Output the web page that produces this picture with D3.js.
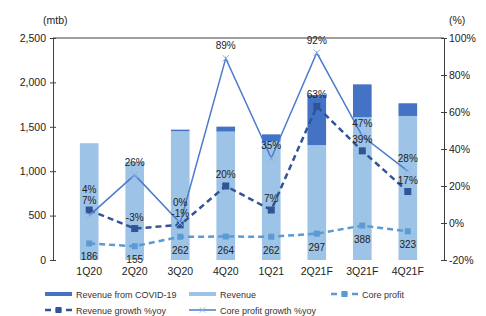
<!DOCTYPE html>
<html>
<head>
<meta charset="utf-8">
<script src="https://cdn.jsdelivr.net/npm/d3@7"></script>
<style>
  body { margin: 0; background: #fff; }
  svg { font-family: "Liberation Sans", Arial, sans-serif; }
</style>
</head>
<body>
<div id="chart"></div>
<script>
// quarters on the x axis
const quarters = ["1Q20", "2Q20", "3Q20", "4Q20", "1Q21", "2Q21F", "3Q21F", "4Q21F"];
// bar values (mtb)
const revenue = [1315, 1105, 1450, 1446, 1340, 1295, 1607, 1622];
const revenueCovid = [0, 0, 18, 56, 75, 563, 371, 143];
// core profit (mtb)
const coreProfit = [186, 155, 262, 264, 262, 297, 388, 323];
// growth lines (%)
const revenueGrowth = [7, -3, -1, 20, 7, 63, 39, 17];
const coreProfitGrowth = [4, 26, 0, 89, 35, 92, 47, 28];
// axis ticks
const leftTicks = [0, 500, 1000, 1500, 2000, 2500];
const rightTicks = [-20, 0, 20, 40, 60, 80, 100];

const W = 486, H = 316;
const margin = { top: 38, right: 42, bottom: 56, left: 53 };
const width = W - margin.left - margin.right,
  height = H - margin.top - margin.bottom;

const cDark = "#4472C4", cLight = "#9DC3E6", cRevG = "#2F5597", cCore = "#5B9BD5", cCoreG = "#4A7BD0";

const svg = d3.select("#chart").append("svg")
  .attr("width", W).attr("height", H);
const g = svg.append("g").attr("transform", `translate(${margin.left},${margin.top})`);

const x = d3.scaleBand().domain(quarters).range([0, width]).padding(0.59);
const xc = d => x(d) + x.bandwidth() / 2;
const yL = d3.scaleLinear().domain([0, 2500]).range([height, 0]);
const yR = d3.scaleLinear().domain([-20, 100]).range([height, 0]);

// top border
g.append("line").attr("x1", 0).attr("x2", width).attr("y1", 0).attr("y2", 0)
  .attr("stroke", "#404040").attr("stroke-width", 1);

// left axis
const axL = g.append("g")
  .call(d3.axisLeft(yL).tickValues(leftTicks).tickFormat(d3.format(",")).tickSizeInner(3).tickSizeOuter(0));
axL.selectAll(".tick line").attr("x2", 3).attr("x1", -3);
// right axis
const axR = g.append("g").attr("transform", `translate(${width},0)`)
  .call(d3.axisRight(yR).tickValues(rightTicks).tickFormat(d => d + "%").tickSizeInner(3).tickSizeOuter(0));
axR.selectAll(".tick line").attr("x1", -3).attr("x2", 3);
[axL, axR].forEach(a => {
  a.select(".domain").attr("stroke", "#404040");
  a.selectAll(".tick line").attr("stroke", "#404040");
  a.selectAll("text").attr("font-size", 10.5).attr("fill", "#222")
    .attr("font-family", "Liberation Sans, Arial, sans-serif");
});
axL.selectAll("text").attr("x", -7);
axR.selectAll("text").attr("x", 5);

// x labels
g.selectAll(".xl").data(quarters).join("text")
  .attr("x", d => xc(d)).attr("y", height + 15)
  .attr("text-anchor", "middle").attr("font-size", 10.5).attr("fill", "#222")
  .text(d => d);

// unit labels
svg.append("text").attr("x", 43).attr("y", 24).attr("font-size", 10.5).attr("fill", "#222").text("(mtb)");
svg.append("text").attr("x", 449).attr("y", 24).attr("font-size", 10.5).attr("fill", "#222").text("(%)");

// bars
g.selectAll(".bl").data(quarters).join("rect")
  .attr("x", d => x(d)).attr("width", x.bandwidth())
  .attr("y", (d, i) => yL(revenue[i])).attr("height", (d, i) => height - yL(revenue[i]))
  .attr("fill", cLight);
g.selectAll(".bd").data(quarters).join("rect")
  .attr("x", d => x(d)).attr("width", x.bandwidth())
  .attr("y", (d, i) => yL(revenue[i] + revenueCovid[i]))
  .attr("height", (d, i) => yL(revenue[i]) - yL(revenue[i] + revenueCovid[i]))
  .attr("fill", cDark);

// core profit line
g.append("path").datum(coreProfit)
  .attr("d", d3.line().x((d, i) => xc(quarters[i])).y(d => yL(d)))
  .attr("fill", "none").attr("stroke", cCore).attr("stroke-width", 2.5).attr("stroke-dasharray", "6,4");
g.selectAll(".cpm").data(coreProfit).join("rect")
  .attr("x", (d, i) => xc(quarters[i]) - 3).attr("y", d => yL(d) - 3)
  .attr("width", 6).attr("height", 6).attr("fill", cCore);
g.selectAll(".cpl").data(coreProfit).join("text")
  .attr("x", (d, i) => xc(quarters[i])).attr("y", d => yL(d) + 17)
  .attr("text-anchor", "middle").attr("font-size", 10).attr("fill", "#222")
  .text(d => d);

// revenue growth line
g.append("path").datum(revenueGrowth)
  .attr("d", d3.line().x((d, i) => xc(quarters[i])).y(d => yR(d)))
  .attr("fill", "none").attr("stroke", cRevG).attr("stroke-width", 2.5).attr("stroke-dasharray", "6,4");
g.selectAll(".rgm").data(revenueGrowth).join("rect")
  .attr("x", (d, i) => xc(quarters[i]) - 3.5).attr("y", d => yR(d) - 3.5)
  .attr("width", 7).attr("height", 7).attr("fill", cRevG);

// core profit growth line
g.append("path").datum(coreProfitGrowth)
  .attr("d", d3.line().x((d, i) => xc(quarters[i])).y(d => yR(d)))
  .attr("fill", "none").attr("stroke", cCoreG).attr("stroke-width", 1.5);
const star = d3.symbol().type(d3.symbolX).size(30);
g.selectAll(".cgm").data(coreProfitGrowth).join("path")
  .attr("transform", (d, i) => `translate(${xc(quarters[i])},${yR(d)})`)
  .attr("d", star).attr("stroke", "#8FB4E8").attr("stroke-width", 1).attr("fill", "none");

// growth labels: when the two labels of one quarter would sit on top of each other, stack them
const close = i => Math.abs(yR(revenueGrowth[i]) - yR(coreProfitGrowth[i])) < 12;
const topY = i => Math.min(yR(revenueGrowth[i]), yR(coreProfitGrowth[i]));
g.selectAll(".rgl").data(revenueGrowth).join("text")
  .attr("x", (d, i) => xc(quarters[i]))
  .attr("y", (d, i) => close(i) ? topY(i) - 6 : yR(d) - 8)
  .attr("text-anchor", "middle").attr("font-size", 10).attr("fill", "#222")
  .text(d => d + "%");
g.selectAll(".cgl").data(coreProfitGrowth).join("text")
  .attr("x", (d, i) => xc(quarters[i]))
  .attr("y", (d, i) => close(i) ? topY(i) - 17 : yR(d) - 9)
  .attr("text-anchor", "middle").attr("font-size", 10).attr("fill", "#222")
  .text(d => d + "%");

// legend
const legend = [
  { name: "Revenue from COVID-19", x: 45, y: 294, type: "bar", color: cDark },
  { name: "Revenue", x: 189, y: 294, type: "bar", color: cLight },
  { name: "Core profit", x: 331, y: 294, type: "dash", color: cCore },
  { name: "Revenue growth %yoy", x: 45, y: 310, type: "dash", color: cRevG },
  { name: "Core profit growth %yoy", x: 189, y: 310, type: "solid", color: cCoreG }
];
const lg = svg.selectAll(".lg").data(legend).join("g")
  .attr("transform", d => `translate(${d.x},${d.y})`);
lg.filter(d => d.type === "bar").append("rect")
  .attr("x", 0).attr("y", -2).attr("width", 27).attr("height", 4).attr("fill", d => d.color);
lg.filter(d => d.type === "dash").append("line")
  .attr("x1", 0).attr("x2", 27).attr("stroke", d => d.color).attr("stroke-width", 2.5)
  .attr("stroke-dasharray", "6,4.5");
lg.filter(d => d.type === "dash").append("rect")
  .attr("x", 10.5).attr("y", -3).attr("width", 6).attr("height", 6).attr("fill", d => d.color);
lg.filter(d => d.type === "solid").append("line")
  .attr("x1", 0).attr("x2", 27).attr("stroke", d => d.color).attr("stroke-width", 1.5);
lg.filter(d => d.type === "solid").append("path")
  .attr("transform", "translate(13.5,0)").attr("d", d3.symbol().type(d3.symbolX).size(20))
  .attr("stroke", "#8FB4E8").attr("fill", "none");
lg.append("text").attr("x", 31).attr("y", 3.5).attr("font-size", 9).attr("fill", "#333")
  .text(d => d.name);
</script>
</body>
</html>
